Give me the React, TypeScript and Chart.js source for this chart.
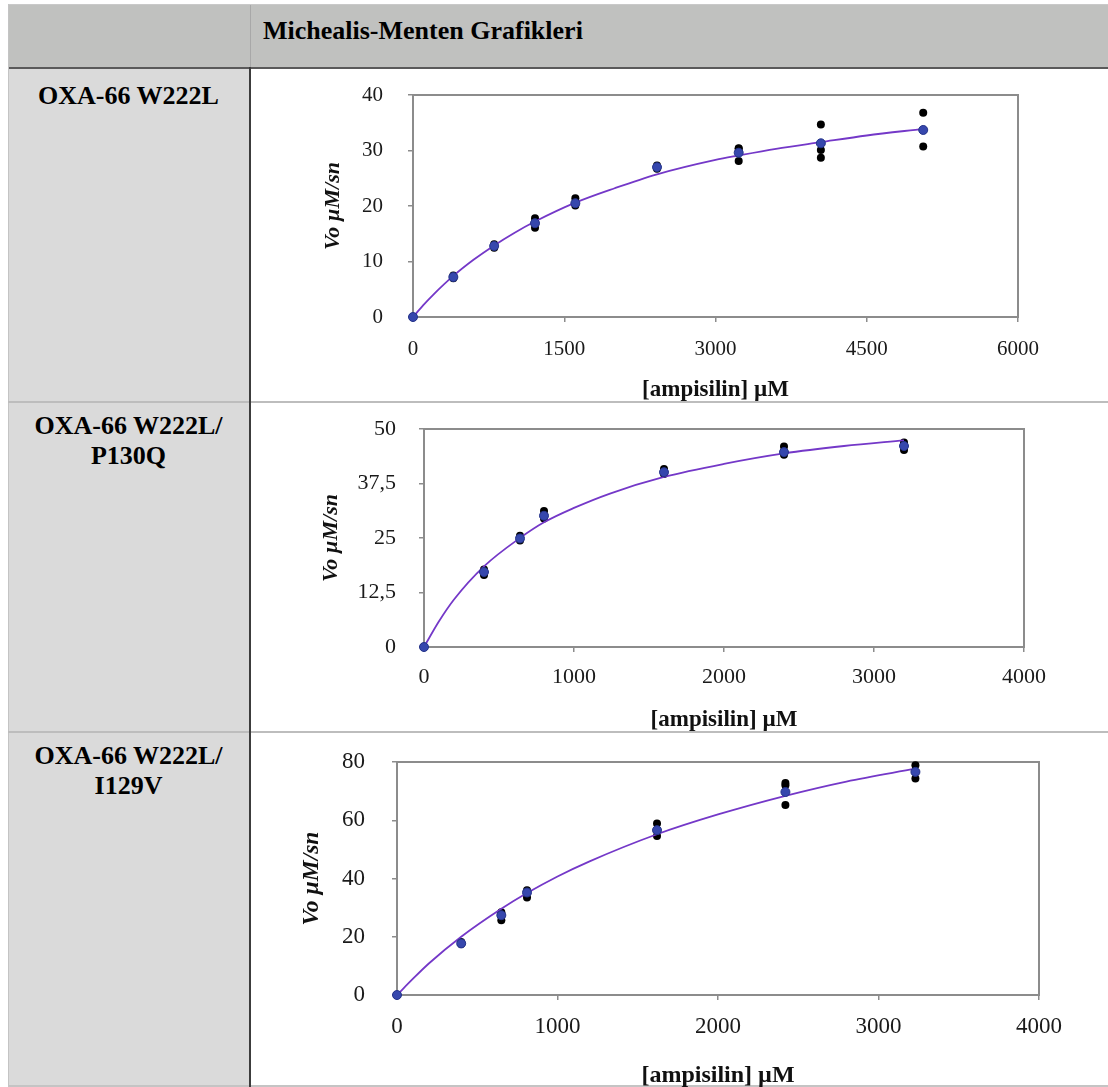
import React, { useEffect, useRef } from 'react';
import { Chart, registerables } from 'chart.js';

Chart.register(...registerables);

// ---------- Texts ----------
const headerTitle = 'Michealis-Menten Grafikleri';
const rowLabels = [['OXA-66 W222L'], ['OXA-66 W222L/', 'P130Q'], ['OXA-66 W222L/', 'I129V']];
const xAxisTitle = '[ampisilin] µM';
const yAxisTitle = 'Vo µM/sn';

// ---------- Chart 1: OXA-66 W222L ----------
const conc1 = [0, 400, 805, 1210, 1610, 2420, 3230, 4045, 5060];
const mean1 = [0, 7.2, 12.8, 16.9, 20.5, 27.0, 29.6, 31.3, 33.7];
const repA1 = [0, 7.0, 12.5, 16.1, 20.1, 26.7, 28.1, 28.7, 30.7];
const repB1 = [0, 7.2, 12.8, 17.0, 20.5, 27.0, 30.3, 30.1, 33.7];
const repC1 = [0, 7.5, 13.1, 17.8, 21.4, 27.3, 30.4, 34.7, 36.8];
const fitX1 = [0, 100, 200, 400, 600, 805, 1000, 1210, 1610, 2000, 2420, 3000, 3230, 3600, 4045, 4500, 5060];
const fitY1 = [0, 2.1, 4.0, 7.4, 10.3, 12.9, 15.1, 17.2, 20.6, 23.2, 25.7, 28.3, 29.1, 30.3, 31.5, 32.7, 33.9];
const xTicks1 = [0, 1500, 3000, 4500, 6000];
const xLabels1 = ['0', '1500', '3000', '4500', '6000'];
const yTicks1 = [0, 10, 20, 30, 40];
const yLabels1 = ['0', '10', '20', '30', '40'];

// ---------- Chart 2: OXA-66 W222L/P130Q ----------
const conc2 = [0, 400, 640, 800, 1600, 2400, 3200];
const mean2 = [0, 17.2, 24.9, 30.1, 40.1, 44.7, 46.1];
const repA2 = [0, 16.5, 24.4, 29.5, 39.7, 44.1, 45.2];
const repB2 = [0, 17.2, 25.0, 30.2, 40.1, 44.8, 46.1];
const repC2 = [0, 17.8, 25.5, 31.2, 40.8, 46.0, 46.9];
const fitX2 = [0, 100, 200, 400, 640, 800, 1000, 1240, 1600, 2000, 2400, 2800, 3200];
const fitY2 = [0, 5.9, 10.9, 18.5, 25.0, 28.6, 31.9, 35.2, 39.0, 42.0, 44.4, 46.1, 47.4];
const xTicks2 = [0, 1000, 2000, 3000, 4000];
const xLabels2 = ['0', '1000', '2000', '3000', '4000'];
const yTicks2 = [0, 12.5, 25, 37.5, 50];
const yLabels2 = ['0', '12,5', '25', '37,5', '50'];

// ---------- Chart 3: OXA-66 W222L/I129V ----------
const conc3 = [0, 400, 650, 810, 1620, 2420, 3230];
const mean3 = [0, 17.7, 27.4, 35.2, 56.6, 69.7, 76.6];
const repA3 = [0, 17.5, 25.7, 33.5, 54.6, 65.2, 74.3];
const repB3 = [0, 17.8, 27.6, 35.4, 56.4, 72.0, 76.6];
const repC3 = [0, 18.2, 28.4, 36.0, 58.9, 72.8, 78.9];
const fitX3 = [0, 100, 200, 400, 650, 810, 1000, 1200, 1620, 2000, 2420, 2800, 3230];
const fitY3 = [0, 5.6, 10.9, 20.0, 29.6, 35.0, 40.7, 45.9, 55.2, 62.0, 68.4, 73.3, 77.7];
const xTicks3 = [0, 1000, 2000, 3000, 4000];
const xLabels3 = ['0', '1000', '2000', '3000', '4000'];
const yTicks3 = [0, 20, 40, 60, 80];
const yLabels3 = ['0', '20', '40', '60', '80'];

// ---------- Styling ----------
const SERIF = '"Liberation Serif", "Times New Roman", serif';
const FRAME_COLOR = '#8c8c8c';

const framePlugin = {
  id: 'plotFrame',
  beforeDatasetsDraw(chart: any) {
    const { ctx, chartArea: a } = chart;
    ctx.save();
    ctx.strokeStyle = FRAME_COLOR;
    ctx.lineWidth = 2;
    ctx.strokeRect(a.left, a.top, a.right - a.left, a.bottom - a.top);
    ctx.restore();
  },
};

type Spec = {
  xs: number[];
  means: number[];
  reps: number[][];
  fitX: number[];
  fitY: number[];
  xTicks: number[];
  xLabels: string[];
  yTicks: number[];
  yLabels: string[];
  left: number;
  top: number;
  width: number;
  height: number;
  yW: number;
  padTop: number;
  padRight: number;
  xH: number;
  yTitlePad: number;
  yTickPad: number;
  xTickPad: number;
  xTitlePad: number;
  tickSize: number;
  yTitleSize: number;
  xTitleSize: number;
};

const pts = (xs: number[], ys: number[]) => xs.map((x, i) => ({ x, y: ys[i] }));

function KineticsChart({ spec }: { spec: Spec }) {
  const ref = useRef<HTMLCanvasElement | null>(null);
  useEffect(() => {
    if (!ref.current) return;
    const s = spec;
    const chart = new Chart(ref.current, {
      type: 'scatter',
      data: {
        datasets: [
          {
            data: pts(s.xs, s.means),
            pointRadius: 4.5,
            backgroundColor: '#3647ad',
            borderColor: '#25348a',
            borderWidth: 1,
            clip: false,
          } as any,
          {
            data: pts(s.fitX, s.fitY),
            showLine: true,
            pointRadius: 0,
            borderColor: '#7438c8',
            borderWidth: 1.8,
            cubicInterpolationMode: 'monotone',
            fill: false,
            clip: false,
          } as any,
          ...s.reps.map(
            (r) =>
              ({
                data: pts(s.xs, r),
                pointRadius: 4,
                backgroundColor: '#000000',
                borderColor: '#000000',
                borderWidth: 0,
                clip: false,
              } as any)
          ),
        ],
      },
      options: {
        animation: false,
        responsive: false,
        devicePixelRatio: 1,
        events: [],
        layout: { padding: { left: 0, top: s.padTop, right: s.padRight, bottom: 0 } },
        plugins: { legend: { display: false }, tooltip: { enabled: false } },
        scales: {
          x: {
            type: 'linear',
            position: 'bottom',
            min: s.xTicks[0],
            max: s.xTicks[s.xTicks.length - 1],
            afterBuildTicks: (sc: any) => {
              sc.ticks = s.xTicks.map((v) => ({ value: v }));
            },
            afterFit: (sc: any) => {
              sc.height = s.xH;
              sc.paddingLeft = 0;
              sc.paddingRight = 0;
            },
            ticks: {
              autoSkip: false,
              maxRotation: 0,
              padding: s.xTickPad,
              color: '#1a1a1a',
              font: { family: SERIF, size: s.tickSize },
              callback: (v: any) => s.xLabels[s.xTicks.indexOf(Number(v))],
            },
            grid: {
              drawOnChartArea: false,
              drawTicks: true,
              tickLength: 5,
              color: FRAME_COLOR,
              lineWidth: 1.5,
            },
            border: { display: false },
            title: {
              display: true,
              text: xAxisTitle,
              color: '#111111',
              font: { family: SERIF, size: s.xTitleSize, weight: 'bold' },
              padding: { top: 0, bottom: s.xTitlePad },
            },
          },
          y: {
            type: 'linear',
            position: 'left',
            min: s.yTicks[0],
            max: s.yTicks[s.yTicks.length - 1],
            afterBuildTicks: (sc: any) => {
              sc.ticks = s.yTicks.map((v) => ({ value: v }));
            },
            afterFit: (sc: any) => {
              sc.width = s.yW;
              sc.paddingTop = 0;
              sc.paddingBottom = 0;
            },
            ticks: {
              autoSkip: false,
              padding: s.yTickPad,
              color: '#1a1a1a',
              font: { family: SERIF, size: s.tickSize },
              callback: (v: any) => s.yLabels[s.yTicks.indexOf(Number(v))],
            },
            grid: {
              drawOnChartArea: false,
              drawTicks: true,
              tickLength: 5,
              color: FRAME_COLOR,
              lineWidth: 1.5,
            },
            border: { display: false },
            title: {
              display: true,
              text: yAxisTitle,
              color: '#111111',
              font: { family: SERIF, size: s.yTitleSize, weight: 'bold', style: 'italic' },
              padding: { top: s.yTitlePad, bottom: 0 },
            },
          },
        },
      } as any,
      plugins: [framePlugin],
    });
    return () => chart.destroy();
  }, [spec]);
  return (
    <canvas
      ref={ref}
      width={spec.width}
      height={spec.height}
      style={{ position: 'absolute', left: spec.left, top: spec.top, width: spec.width, height: spec.height }}
    />
  );
}

const spec1: Spec = {
  xs: conc1, means: mean1, reps: [repA1, repB1, repC1], fitX: fitX1, fitY: fitY1,
  xTicks: xTicks1, xLabels: xLabels1, yTicks: yTicks1, yLabels: yLabels1,
  left: 250, top: 69, width: 858, height: 345,
  yW: 163, padTop: 26, padRight: 90, xH: 97,
  yTitlePad: 70, yTickPad: 25, xTickPad: 15, xTitlePad: 10,
  tickSize: 21, yTitleSize: 22, xTitleSize: 23,
};

const spec2: Spec = {
  xs: conc2, means: mean2, reps: [repA2, repB2, repC2], fitX: fitX2, fitY: fitY2,
  xTicks: xTicks2, xLabels: xLabels2, yTicks: yTicks2, yLabels: yLabels2,
  left: 250, top: 403, width: 858, height: 340,
  yW: 174, padTop: 26, padRight: 84, xH: 96,
  yTitlePad: 68, yTickPad: 23, xTickPad: 12, xTitlePad: 9,
  tickSize: 22, yTitleSize: 22, xTitleSize: 23,
};

const spec3: Spec = {
  xs: conc3, means: mean3, reps: [repA3, repB3, repC3], fitX: fitX3, fitY: fitY3,
  xTicks: xTicks3, xLabels: xLabels3, yTicks: yTicks3, yLabels: yLabels3,
  left: 250, top: 733, width: 858, height: 370,
  yW: 147, padTop: 29, padRight: 69, xH: 108,
  yTitlePad: 48, yTickPad: 27, xTickPad: 13, xTitlePad: 13,
  tickSize: 23, yTitleSize: 23.5, xTitleSize: 24,
};

const abs = (l: number, t: number, w: number, h: number, bg: string): React.CSSProperties => ({
  position: 'absolute', left: l, top: t, width: w, height: h, background: bg,
});

const labelStyle = (top: number): React.CSSProperties => ({
  position: 'absolute', left: 8, top, width: 241, textAlign: 'center',
  fontFamily: SERIF, fontWeight: 'bold', fontSize: 26, lineHeight: '30px', color: '#000',
});

export default function App() {
  const labelTops = [81, 411, 741];
  return (
    <div style={{ position: 'absolute', left: 0, top: 0, width: 1108, height: 1087, overflow: 'hidden', background: '#ffffff' }}>
      {/* header */}
      <div style={abs(8, 4, 1100, 1, '#c9c9c9')} />
      <div style={abs(8, 5, 1100, 62, '#c0c1bf')} />
      <div style={abs(250, 5, 1, 62, '#a8a8a8')} />
      <div style={abs(8, 67, 1100, 2, '#5a5a5a')} />
      {/* left column */}
      <div style={abs(8, 69, 241, 1017, '#dadada')} />
      <div style={abs(8, 4, 1, 1082, '#c4c4c4')} />
      {/* row separators */}
      <div style={abs(8, 401, 1100, 2, '#bdbdbd')} />
      <div style={abs(8, 731, 1100, 2, '#bdbdbd')} />
      <div style={abs(8, 1085, 1100, 2, '#c4c4c4')} />
      {/* vertical dark divider */}
      <div style={abs(249, 67, 2, 1020, '#3c3c3c')} />
      {/* header text */}
      <div style={{ position: 'absolute', left: 263, top: 16, fontFamily: SERIF, fontWeight: 'bold', fontSize: 26, lineHeight: '30px', color: '#000', whiteSpace: 'nowrap' }}>
        {headerTitle}
      </div>
      {rowLabels.map((lines, i) => (
        <div key={i} style={labelStyle(labelTops[i])}>
          {lines.map((ln, j) => (
            <div key={j}>{ln}</div>
          ))}
        </div>
      ))}
      <KineticsChart spec={spec1} />
      <KineticsChart spec={spec2} />
      <KineticsChart spec={spec3} />
    </div>
  );
}
